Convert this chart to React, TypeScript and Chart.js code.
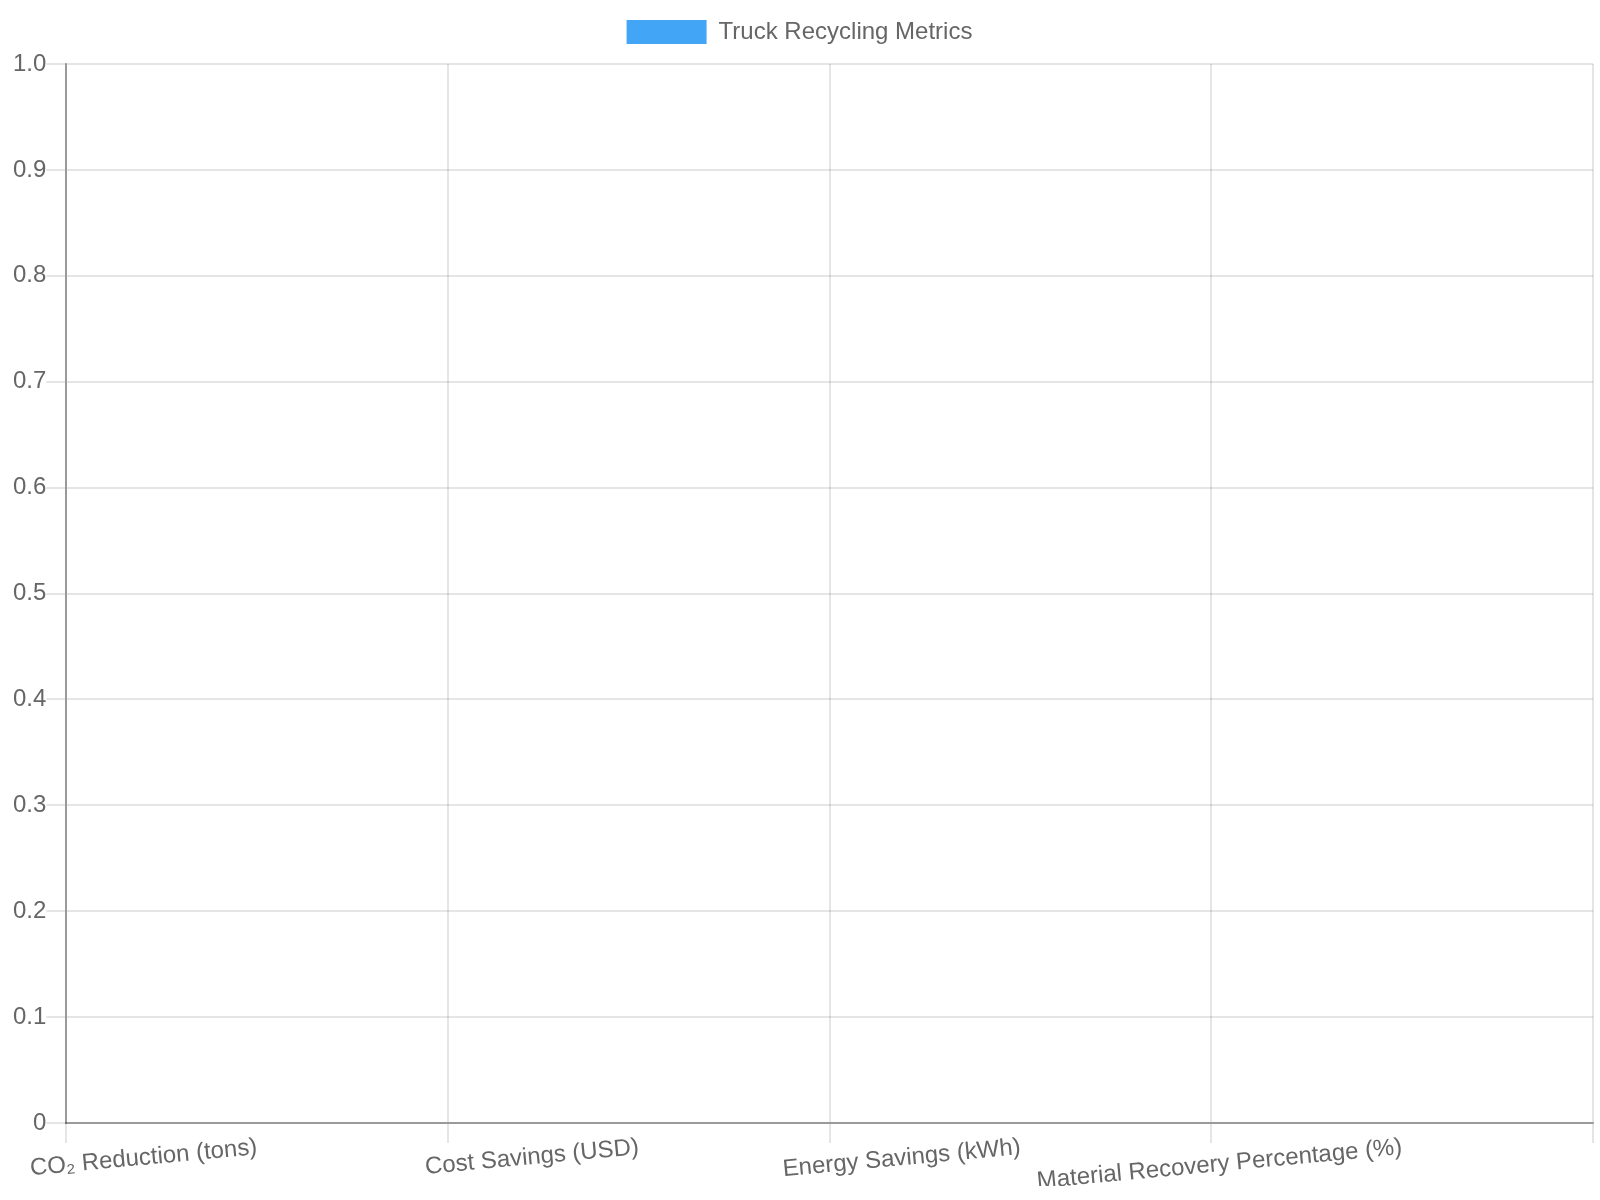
import React, { useEffect, useRef } from "react";
import { Chart, registerables } from "chart.js";

Chart.register(...registerables);

const categories: string[] = [
  "CO₂ Reduction (tons)",
  "Cost Savings (USD)",
  "Energy Savings (kWh)",
  "Material Recovery Percentage (%)",
];
const seriesLabel = "Truck Recycling Metrics";
const seriesValues: (number | null)[] = [0, 0, 0, 0];

export default function App() {
  const ref = useRef<HTMLCanvasElement | null>(null);
  useEffect(() => {
    if (!ref.current) return;
    const chart = new Chart(ref.current, {
      type: "bar",
      data: {
        labels: categories,
        datasets: [
          {
            label: seriesLabel,
            data: seriesValues,
            backgroundColor: "#42A5F5",
            borderWidth: 0,
          },
        ],
      },
      options: {
        animation: false,
        responsive: true,
        maintainAspectRatio: false,
        devicePixelRatio: 2,
        layout: { padding: { left: 3, right: 3.5, top: 0, bottom: 7 } },
        plugins: {
          legend: { labels: { color: "#666" } },
          tooltip: { enabled: false },
        },
        scales: {
          x: {
            grid: { color: "rgba(0,0,0,0.1)", tickLength: 10 },
            border: { color: "rgba(0,0,0,0.33)" },
            ticks: { color: "#666", minRotation: 5.35, maxRotation: 5.35, padding: -5 },
          },
          y: {
            beginAtZero: true,
            grid: { color: "rgba(0,0,0,0.1)", tickLength: 10 },
            border: { color: "rgba(0,0,0,0.33)" },
            ticks: { color: "#666", padding: 0 },
            afterFit: (scale: any) => {
              scale.width += 3.5;
            },
          },
        },
      },
    });
    return () => chart.destroy();
  }, []);
  return (
    <div
      style={{
        position: "absolute",
        left: 0,
        top: 0,
        width: 800,
        height: 600,
        transform: "scale(2)",
        transformOrigin: "0 0",
      }}
    >
      <canvas ref={ref} />
    </div>
  );
}
